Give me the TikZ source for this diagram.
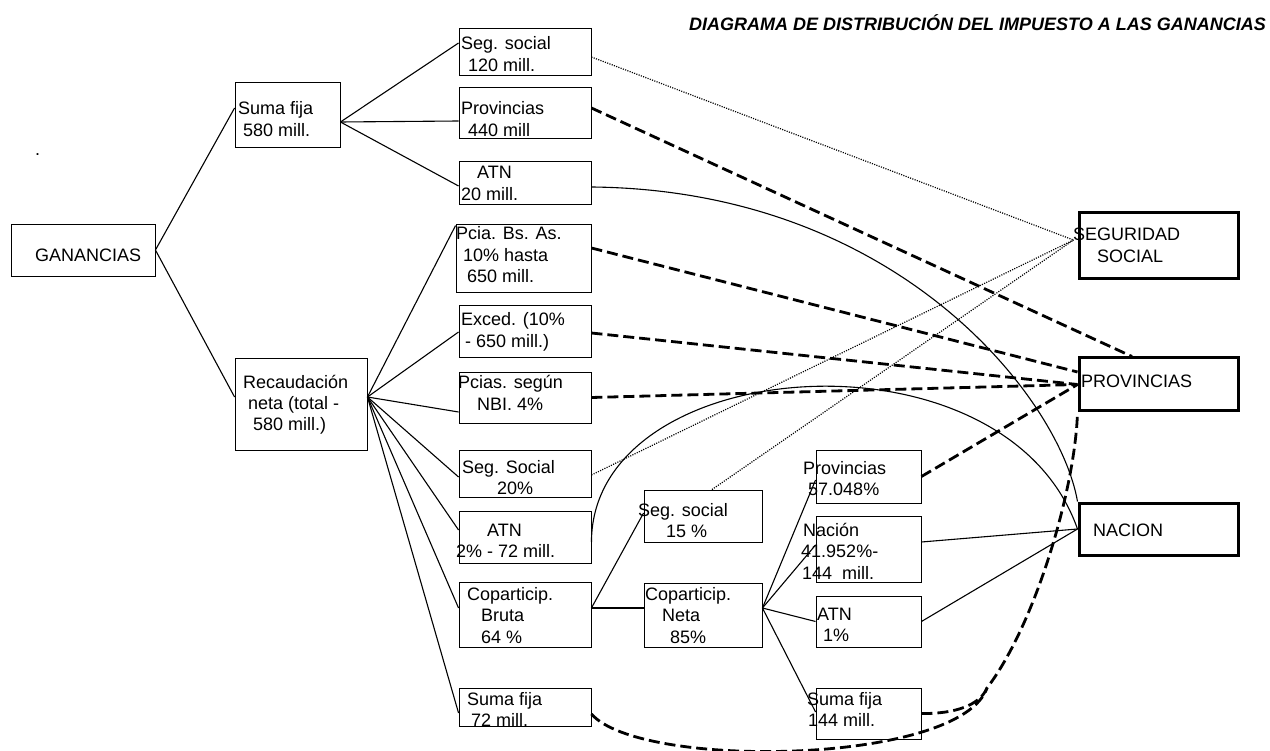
\documentclass[tikz,border=0pt]{standalone}
\usepackage{fontspec}
\setmainfont{Liberation Sans}
\usetikzlibrary{calc}
\begin{document}
\begin{tikzpicture}[x=1pt,y=-1pt,
  box/.style={draw, line width=0.9pt, inner sep=0pt},
  bigbox/.style={draw, line width=3pt, inner sep=0pt},
  txt/.style={inner sep=0pt, anchor=base west, align=left, font=\fontsize{18}{21.5}\selectfont},
  link/.style={line width=1.1pt},
  dashlink/.style={line width=2.8pt, dash pattern=on 11pt off 5pt},
  dotlink/.style={line width=1.2pt, dash pattern=on 1.1pt off 1.3pt}]
\useasboundingbox (0,0) rectangle (1270,751);

% title and stray dot
\node[inner sep=0pt, anchor=base east, font=\fontsize{18}{21.5}\selectfont\bfseries\itshape] (title) at (1266,31) {DIAGRAMA DE DISTRIBUCIÓN DEL IMPUESTO A LAS GANANCIAS};
\node[txt] (dot) at (35,156) {.};

% boxes
\node[box, minimum width=144, minimum height=52] (gan) at (83,250) {};
\node[box, minimum width=105, minimum height=65] (sf580) at (287.5,114.5) {};
\node[box, minimum width=132, minimum height=92] (rec) at (301,404) {};
\node[box, minimum width=132, minimum height=47] (ss120) at (525,51.5) {};
\node[box, minimum width=132, minimum height=51] (pv440) at (525,112.5) {};
\node[box, minimum width=132, minimum height=43] (atn20) at (525,182.5) {};
\node[box, minimum width=135, minimum height=68] (pba) at (523.5,258) {};
\node[box, minimum width=132, minimum height=52] (exc) at (525,331) {};
\node[box, minimum width=132, minimum height=51] (nbi) at (525,397.5) {};
\node[box, minimum width=132, minimum height=47] (ss20) at (525,473.5) {};
\node[box, minimum width=132, minimum height=52] (atn2) at (525,537) {};
\node[box, minimum width=132, minimum height=65] (cb) at (525,614.5) {};
\node[box, minimum width=132, minimum height=38] (sf72) at (525,707) {};
\node[box, minimum width=118, minimum height=52] (ss15) at (703,516) {};
\node[box, minimum width=118, minimum height=64] (cn) at (703,615) {};
\node[box, minimum width=105, minimum height=53] (pv57) at (868.5,476.5) {};
\node[box, minimum width=105, minimum height=66] (nac) at (868.5,549) {};
\node[box, minimum width=105, minimum height=51] (atn1) at (868.5,621.5) {};
\node[box, minimum width=105, minimum height=51] (sf144) at (868.5,713.5) {};
\node[bigbox, minimum width=159, minimum height=66] (SS) at (1158.5,246) {};
\node[bigbox, minimum width=159, minimum height=53] (PV) at (1158.5,384.5) {};
\node[bigbox, minimum width=159, minimum height=52] (NA) at (1158.5,529) {};

% texts (position = baseline of the last line)
\node[txt] (gant) at (35,262) {GANANCIAS};
\node[txt] (sf580t) at (238,136.5) {Suma fija\\\hspace*{5pt}580 mill.};
\node[txt] (rect) at (243,431) {Recaudación\\\hspace*{5pt}neta (total -\\\hspace*{10pt}580 mill.)};
\node[txt] (ss120t) at (461,71.5) {Seg. social\\\hspace*{7pt}120 mill.};
\node[txt] (pv440t) at (461,136.5) {Provincias\\\hspace*{7pt}440 mill};
\node[txt] (atn20t) at (461,200.5) {\hspace*{16pt}ATN\\20 mill.};
\node[txt] (pbat) at (456,283) {Pcia. Bs. As.\\\hspace*{7pt}10\% hasta\\\hspace*{11pt}650 mill.};
\node[txt] (exct) at (461,347.5) {Exced. (10\%\\\hspace*{4pt}- 650 mill.)};
\node[txt] (nbit) at (458,410.5) {Pcias. según\\\hspace*{19pt}NBI. 4\%};
\node[txt] (ss20t) at (462,494.5) {Seg. Social\\\hspace*{35pt}20\%};
\node[txt] (atn2t) at (456,557.5) {\hspace*{31pt}ATN\\2\% - 72 mill.};
\node[txt] (cbt) at (467,643) {Coparticip.\\\hspace*{14pt}Bruta\\\hspace*{14pt}64 \%};
\node[txt] (sf72t) at (467,726.5) {Suma fija\\\hspace*{4pt}72 mill.};
\node[txt] (ss15t) at (638,537.5) {Seg. social\\\hspace*{28pt}15 \%};
\node[txt] (cnt) at (645,643) {Coparticip.\\\hspace*{17pt}Neta\\\hspace*{25pt}85\%};
\node[txt] (pv57t) at (803,495.5) {Provincias\\\hspace*{5pt}57.048\%};
\node[txt] (nact) at (801,579) {\hspace*{2pt}Nación\\41.952\%-\\\hspace*{1pt}144\ \ mill.};
\node[txt] (atn1t) at (817,641.5) {ATN\\\hspace*{6pt}1\%};
\node[txt] (sf144t) at (807,726.5) {Suma fija\\\hspace*{1pt}144 mill.};
\node[txt] (SSt) at (1073,262.5) {SEGURIDAD\\\hspace*{24pt}SOCIAL};
\node[txt] (PVt) at (1081,388) {PROVINCIAS};
\node[txt] (NAt) at (1093,536) {NACION};

% helper coordinates
\coordinate (sfo) at ($(sf580.east)+(0,7.5)$);
\coordinate (reco) at ($(rec.east)+(0,-7)$);
\coordinate (cbo) at ($(cb.east)+(0,-6.5)$);
\coordinate (cno) at ($(cn.east)+(0,-7)$);
\coordinate (ssin) at ($(SS.west)+(-4,-6)$);
\coordinate (merge) at (987,688);

% tree connectors
\draw[link] (gan.east) -- ($(sf580.west)+(0,-6.5)$);
\draw[link] (gan.east) -- ($(rec.west)+(0,-7)$);
\draw[link] (sfo) -- ($(ss120.west)+(0,-8.5)$);
\draw[link] (sfo) -- ($(pv440.west)+(0,8.5)$);
\draw[link] (sfo) -- ($(atn20.west)+(0,3.5)$);
\draw[link] (reco) -- ($(pba.north west)+(0,2)$);
\draw[link] (reco) -- ($(exc.west)+(0,1)$);
\draw[link] (reco) -- ($(nbi.west)+(0,14.5)$);
\draw[link] (reco) -- ($(ss20.west)+(0,3.5)$);
\draw[link] (reco) -- ($(atn2.west)+(0,-7)$);
\draw[link] (reco) -- ($(cb.west)+(0,-6.5)$);
\draw[link] (reco) -- ($(sf72.west)+(0,6)$);
\draw[link] (cbo) -- ($(ss15.west)+(0,-3)$);
\draw[link] (cbo) -- ($(cn.west)+(0,-7)$);
\draw[link] (cno) -- ($(pv57.west)+(0,3.5)$);
\draw[link] (cno) -- ($(nac.west)+(0,-4)$);
\draw[link] (cno) -- (atn1.west);
\draw[link] (cno) -- ($(sf144.west)+(0,-1.5)$);
\draw[link] ($(nac.east)+(0,-7)$) -- (NA.west);
\draw[link] (atn1.east) -- (NA.west);
\draw[link] ($(atn20.east)+(0,4.5)$) .. controls (900,190) and (1060,400) .. (NA.north west);
\draw[link] ($(atn2.east)+(0,5)$) .. controls (592,352) and (1005,322) .. (NA.west);

% dashed connectors to PROVINCIAS
\draw[dashlink] ($(pv440.east)+(0,-4.5)$) -- ($(PV.north)+(-26.5,0)$);
\draw[dashlink] ($(pba.east)+(0,-10)$) -- ($(PV.west)+(0,-12.5)$);
\draw[dashlink] ($(exc.east)+(0,2)$) -- (PV.west);
\draw[dashlink] (nbi.east) -- (PV.west);
\draw[dashlink] (pv57.east) -- (PV.west);
\draw[dashlink] (sf144.east) .. controls (955,714) and (980,705) .. (merge)
   .. controls (1035,625) and (1075,490) .. (PV.south west);
\draw[dashlink] ($(sf72.east)+(0,7)$) .. controls (640,770) and (960,765) .. (merge);

% dotted connectors to SEGURIDAD SOCIAL
\draw[dotlink] ($(ss120.east)+(0,5.5)$) -- (ssin);
\draw[dotlink] ($(ss20.east)+(0,1.5)$) -- (ssin);
\draw[dotlink] ($(ss15.north)+(9,0)$) -- (ssin);
\end{tikzpicture}
\end{document}
